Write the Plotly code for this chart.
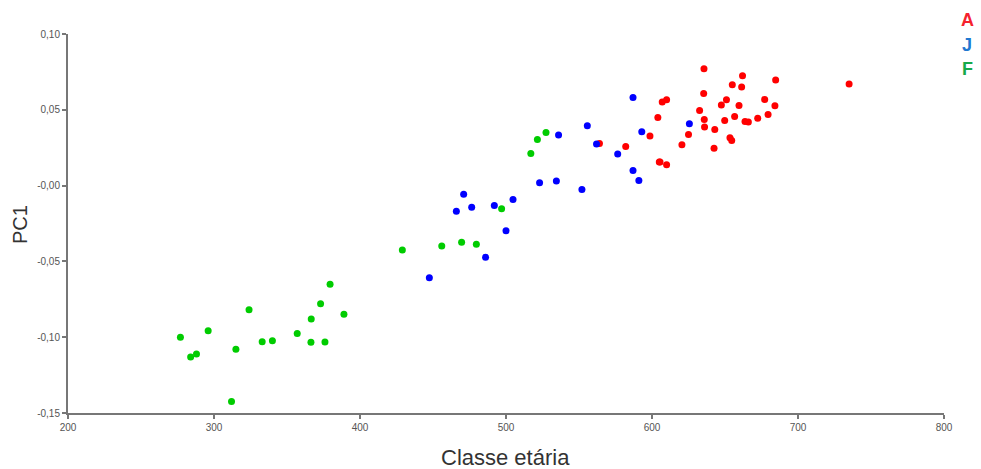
import plotly.graph_objects as go

# Group A (adults) - red
a_x = [564, 582, 598.6, 604, 605, 607, 610, 605.5, 610, 620.5, 625, 632.6, 635.6, 635.4, 635.8, 636,
       643, 642.5, 647.5, 651, 649.8, 653.4, 654.6, 655, 656.6, 659.6, 661.4, 662, 663.7, 666, 672.4,
       677.2, 679.5, 684.2, 684.7, 735]
a_y = [0.0277, 0.0258, 0.0328, 0.0449, 0.0155, 0.0551, 0.0566, 0.0155, 0.0137, 0.0269, 0.0337, 0.0495,
       0.0771, 0.0608, 0.0436, 0.0386, 0.037, 0.0247, 0.0531, 0.0566, 0.0429, 0.0315, 0.0297, 0.0665,
       0.0456, 0.0528, 0.065, 0.0725, 0.0423, 0.0419, 0.0445, 0.0568, 0.0469, 0.0526, 0.0696, 0.0671]

# Group J (juveniles) - blue
j_x = [447.5, 466, 471, 476.5, 486, 492, 500, 504.8, 523, 534.5, 536, 552, 555.7, 562, 576.5, 587,
       587, 591, 593, 625.6]
j_y = [-0.0608, -0.0169, -0.0057, -0.0143, -0.0473, -0.0132, -0.0297, -0.0092, 0.0018, 0.0031, 0.0333,
       -0.0026, 0.0394, 0.0275, 0.0209, 0.0581, 0.0099, 0.0033, 0.0355, 0.0408]

# Group F - green
f_x = [277, 284, 288, 296, 312, 315, 324, 333, 340, 357, 366.6, 366.4, 373, 376, 379.5, 389,
       429, 456, 469.6, 479.7, 497, 517, 521.5, 527.4]
f_y = [-0.100, -0.113, -0.111, -0.0958, -0.1424, -0.108, -0.0819, -0.103, -0.1024, -0.0975, -0.088,
       -0.1034, -0.078, -0.1032, -0.065, -0.0849, -0.0425, -0.0398, -0.0374, -0.0387, -0.0152, 0.0211,
       0.0304, 0.035]

x_ticks = [200, 300, 400, 500, 600, 700, 800]
y_ticks = [0.10, 0.05, 0.0, -0.05, -0.10, -0.15]
y_tick_text = ["0,10", "0,05", "-0,00", "-0,05", "-0,10", "-0,15"]

groups = [("A", a_x, a_y, "#ff0000", "#f5222d"),
          ("J", j_x, j_y, "#0000ff", "#1f78d1"),
          ("F", f_x, f_y, "#00cc00", "#16a94a")]

W, H = 981, 469
L, T = 68, 34
pw, ph = 876, 379
R = W - L - pw
B = H - T - ph

def px(xp):
    return (xp - L) / pw

def py(yp):
    return (H - B - yp) / ph

fig = go.Figure()
for name, xs, ys, col, _ in groups:
    fig.add_trace(go.Scatter(x=xs, y=ys, mode="markers", name=name,
                             marker=dict(color=col, size=7, line=dict(width=0))))

for i, (name, _, _, _, lcol) in enumerate(groups):
    fig.add_annotation(text="<b>" + name + "</b>", x=px(967), y=py(20 + i * 24.5), xref="paper", yref="paper",
                       showarrow=False, xanchor="center", yanchor="middle",
                       font=dict(size=18, color=lcol, family="Liberation Sans"))

fig.add_annotation(text="PC1", x=px(20), y=py(225), xref="paper", yref="paper", showarrow=False,
                   textangle=-90, xanchor="center", yanchor="middle",
                   font=dict(size=20, color="#333333", family="Liberation Sans"))
fig.add_annotation(text="Classe etária", x=px(505), y=py(457), xref="paper", yref="paper", showarrow=False,
                   xanchor="center", yanchor="middle",
                   font=dict(size=22, color="#333333", family="Liberation Sans"))

axis_common = dict(showgrid=False, zeroline=False, showline=True, linecolor="#777777", linewidth=2,
                   ticks="outside", ticklen=4, tickwidth=1.5, tickcolor="#777777",
                   tickfont=dict(size=10, color="#555555", family="Liberation Sans"))

fig.update_layout(
    width=W, height=H,
    margin=dict(l=L, r=R, t=T, b=B),
    plot_bgcolor="white", paper_bgcolor="white",
    showlegend=False,
    xaxis=dict(range=[200, 800], tickvals=x_ticks, **axis_common),
    yaxis=dict(range=[-0.15, 0.10], tickvals=y_ticks, ticktext=y_tick_text, **axis_common),
)

fig.write_html("out.html", config={"displayModeBar": False},
               post_script="document.body.style.margin='0px';document.body.style.overflow='hidden';")
